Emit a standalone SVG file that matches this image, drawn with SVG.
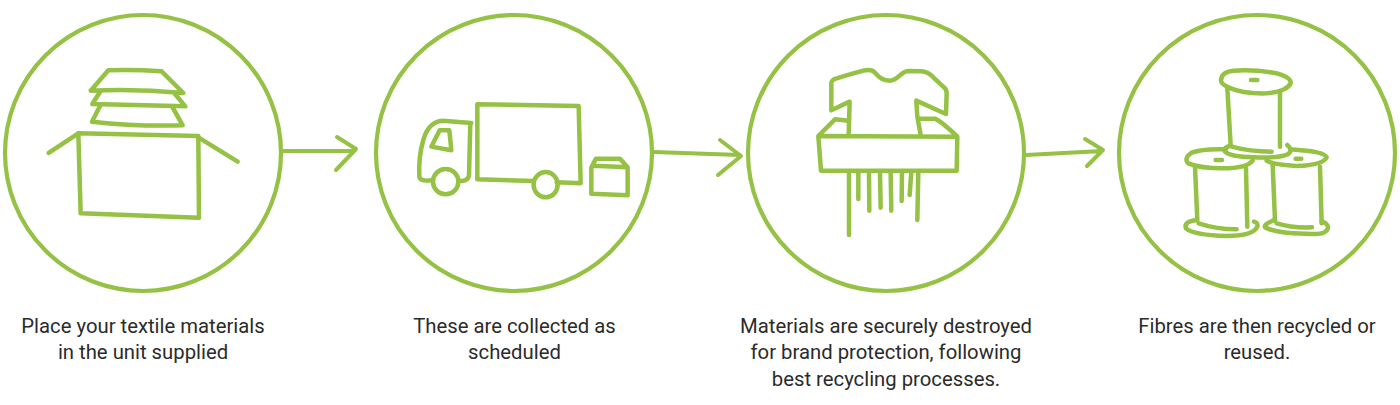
<svg xmlns="http://www.w3.org/2000/svg" width="1400" height="405" viewBox="0 0 1400 405">
<style>
.c{fill:none;stroke:#95c145;stroke-width:4.2}
.i{fill:none;stroke:#95c145;stroke-width:13.5;stroke-linecap:round;stroke-linejoin:round}
.t{font-family:Roboto,"Liberation Sans",sans-serif;font-size:20.3px;fill:#2b2b2b;text-anchor:middle}
.a{fill:none;stroke:#95c145;stroke-width:4;stroke-linecap:round;stroke-linejoin:round}
</style>
<rect width="1400" height="405" fill="#fff"/>
<g id="connectors">
<path class="a" d="M283 151H354M337 137L356 149L336 170"/>
<path class="a" d="M654 152L740 155M720 140L741 156L718 175"/>
<path class="a" d="M1026 155L1102 151M1085 139L1103 150L1087 166"/>
</g>
<g id="step1">
<circle class="c" cx="143" cy="153" r="138"/>
<g transform="scale(.3333)">
<path class="i" d="M272 272L325 211Q400 208 485 214L550 279Q410 266 272 272Z"/>
<path class="i" d="M300 276L277 312Q420 315 556 319L525 282"/>
<path class="i" d="M300 318L276 365Q410 380 548 376L518 322"/>
<path class="i" d="M235 400L242 640L597 653L595 408Z"/>
<path class="i" d="M235 400L146 459M595 412L713 485"/>
</g>
</g>
<g id="step2">
<circle class="c" cx="514" cy="153" r="138"/>
<g transform="translate(370,0) scale(.3333)">
<path class="i" d="M490 543L322 538L322 313L626 318L632 550L560 547"/>
<path class="i" d="M304 369L218 362Q175 365 160 420Q145 470 148 530Q150 545 185 541M268 543Q295 545 297 525L301 369"/>
<circle class="i" cx="227" cy="545" r="38"/>
<ellipse class="i" cx="527" cy="554" rx="36" ry="38"/>
<path class="i" d="M209 391L238 391L244 451L184 440Z"/>
<path class="i" d="M664 503L664 581L773 586L773 502L671 497ZM664 503L678 476L750 476L773 502"/>
</g>
</g>
<g id="step3">
<circle class="c" cx="886" cy="153" r="138"/>
<g transform="translate(740,0) scale(.3333)">
<path class="i" d="M235 408L652 410L650 512L243 512Z"/>
<path class="i" d="M326 405L329 305L274 331L274 248Q276 238 290 235Q340 220 370 212Q395 206 405 218C420 235 430 242 450 242C475 242 480 215 505 213L545 214Q565 216 580 232L612 262Q620 268 620 280L618 342L529 302L532 350L542 405"/>
<path class="i" d="M238 405L285 358L325 362M540 356L585 356Q605 365 650 408"/>
<path class="i" d="M327 516V705M355 516L355 597M387 516L388 632M420 516L422 623M452 516L454 632M486 516L485 603M514 516L509 585M535 516L532 660"/>
</g>
</g>
<g id="step4">
<circle class="c" cx="1257" cy="153" r="138"/>
<g transform="translate(1100,0) scale(.3333)">
<path class="i" d="M363 240Q365 215 400 212Q470 208 530 220Q575 232 572 250Q560 275 500 280Q430 282 385 262Q362 252 363 240Z"/>
<path class="i" d="M382 265L392 435M540 280L540 440"/>
<path class="i" d="M392 438Q370 440 375 455Q390 470 460 472Q540 475 565 462Q580 450 562 435M395 440Q450 455 515 455"/>
<path class="i" d="M378 448Q310 445 275 458Q250 475 265 490Q300 505 370 505Q440 505 458 482"/>
<path class="i" d="M285 500L292 660M438 505L442 680"/>
<path class="i" d="M290 660Q250 665 258 685Q280 705 380 708Q460 708 472 680Q475 668 462 665M296 670Q350 688 410 688"/>
<path class="i" d="M500 482Q520 495 590 498Q670 495 680 472Q675 458 620 452L570 448"/>
<path class="i" d="M518 495L525 660M660 500L665 670"/>
<path class="i" d="M525 660Q490 672 495 682Q530 702 640 702Q685 702 684 680Q680 668 665 664M530 670Q580 685 636 682"/>
<path class="i" d="M453 240H472M347 480H366M587 476H604"/>
</g>
</g>
<g id="labels">
<text class="t"><tspan x="143" y="332.5">Place your textile materials</tspan><tspan x="143" y="359">in the unit supplied</tspan></text>
<text class="t"><tspan x="514.5" y="332.5">These are collected as</tspan><tspan x="514.5" y="359">scheduled</tspan></text>
<text class="t"><tspan x="886" y="332.5">Materials are securely destroyed</tspan><tspan x="886" y="359">for brand protection, following</tspan><tspan x="886" y="385.5">best recycling processes.</tspan></text>
<text class="t"><tspan x="1257" y="332.5">Fibres are then recycled or</tspan><tspan x="1257" y="359">reused.</tspan></text>
</g>
</svg>
